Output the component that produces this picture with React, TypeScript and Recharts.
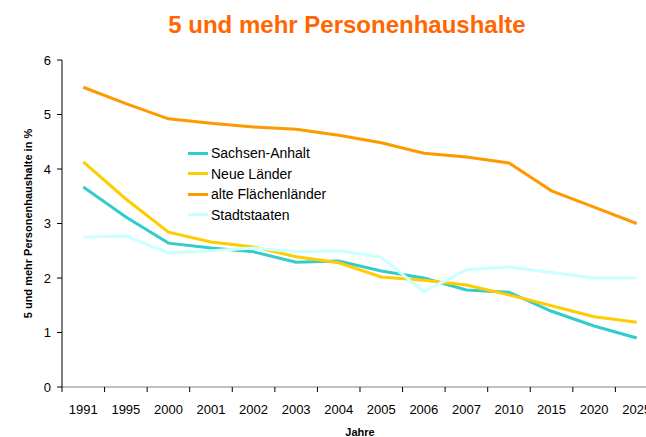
import { LineChart, Line, XAxis, YAxis } from 'recharts'

const years = ['1991', '1995', '2000', '2001', '2002', '2003', '2004', '2005', '2006', '2007', '2010', '2015', '2020', '2025']
const sachsenAnhalt = [3.67, 3.12, 2.64, 2.55, 2.48, 2.29, 2.31, 2.13, 2.0, 1.78, 1.74, 1.39, 1.12, 0.9]
const neueLaender = [4.13, 3.45, 2.84, 2.66, 2.57, 2.39, 2.28, 2.02, 1.96, 1.87, 1.69, 1.49, 1.29, 1.19]
const alteFlaechenlaender = [5.5, 5.2, 4.92, 4.84, 4.77, 4.73, 4.62, 4.48, 4.29, 4.22, 4.11, 3.6, 3.3, 3.0]
const stadtstaaten = [2.75, 2.77, 2.46, 2.5, 2.55, 2.48, 2.5, 2.38, 1.75, 2.15, 2.2, 2.1, 2.0, 2.0]
const yTicks = [0, 1, 2, 3, 4, 5, 6]

const series = [
  { key: 'sa', name: 'Sachsen-Anhalt', color: '#33CCCC', values: sachsenAnhalt },
  { key: 'nl', name: 'Neue Länder', color: '#FFCC00', values: neueLaender },
  { key: 'af', name: 'alte Flächenländer', color: '#FF9900', values: alteFlaechenlaender },
  { key: 'st', name: 'Stadtstaaten', color: '#CCFFFF', values: stadtstaaten },
]

const data = years.map((year, i) => {
  const row: Record<string, string | number> = { year }
  series.forEach((s) => { row[s.key] = s.values[i] })
  return row
})

const FONT = '"Liberation Sans", Arial, sans-serif'
const HALF_STEP = 21.3

// tick marks sit between the categories, like the original spreadsheet chart
function YearTick({ x, y, payload }: { x?: number; y?: number; payload?: { value: string } }) {
  return (
    <g>
      <line x1={x! - HALF_STEP} x2={x! - HALF_STEP} y1={y! - 8} y2={y! - 3} stroke="#000" />
      <text x={x} y={y! + 19} textAnchor="middle" fontSize={13} fill="#000" fontFamily={FONT}>
        {payload?.value}
      </text>
    </g>
  )
}

export default function App() {
  // fixed to the viewport so the cut-off right edge doesn't make the page scroll
  return (
    <div style={{ position: 'fixed', top: 0, left: 0, width: 646, height: 437, overflow: 'hidden', background: '#fff', fontFamily: FONT }}>
      <div
        style={{
          position: 'absolute', top: 11, left: 0, width: 694, textAlign: 'center',
          color: '#FF6600', fontWeight: 'bold', fontSize: 24, fontFamily: FONT,
        }}
      >
        5 und mehr Personenhaushalte
      </div>
      <LineChart width={688} height={437} data={data} margin={{ top: 60, right: 30, bottom: 0, left: 0 }}>
        <XAxis
          dataKey="year"
          height={50}
          padding={{ left: HALF_STEP, right: HALF_STEP }}
          stroke="#808080"
          tickLine={false}
          tick={<YearTick />}
          interval={0}
          label={{ value: 'Jahre', position: 'insideBottom', offset: 1, fontSize: 11, fontWeight: 'bold', fill: '#000', fontFamily: FONT }}
        />
        <YAxis
          width={62}
          domain={[0, 6]}
          ticks={yTicks}
          stroke="#000"
          tickSize={5}
          tickMargin={6}
          tick={{ fontSize: 13, fill: '#000', fontFamily: FONT }}
          label={{
            value: '5 und mehr Personenhaushalte in %', angle: -90, position: 'insideLeft', offset: 28,
            fontSize: 11, fontWeight: 'bold', fill: '#000', fontFamily: FONT, style: { textAnchor: 'middle' },
          }}
        />
        {series.map((s) => (
          <Line
            key={s.key}
            dataKey={s.key}
            name={s.name}
            stroke={s.color}
            strokeWidth={3}
            dot={false}
            activeDot={false}
            isAnimationActive={false}
          />
        ))}
      </LineChart>
      <div style={{ position: 'absolute', top: 143, left: 188, fontSize: 14, color: '#000', lineHeight: '20.5px' }}>
        {series.map((s) => (
          <div key={s.key} style={{ display: 'flex', alignItems: 'center' }}>
            <span style={{ display: 'inline-block', width: 20, height: 3, background: s.color, marginRight: 3 }} />
            <span>{s.name}</span>
          </div>
        ))}
      </div>
    </div>
  )
}
